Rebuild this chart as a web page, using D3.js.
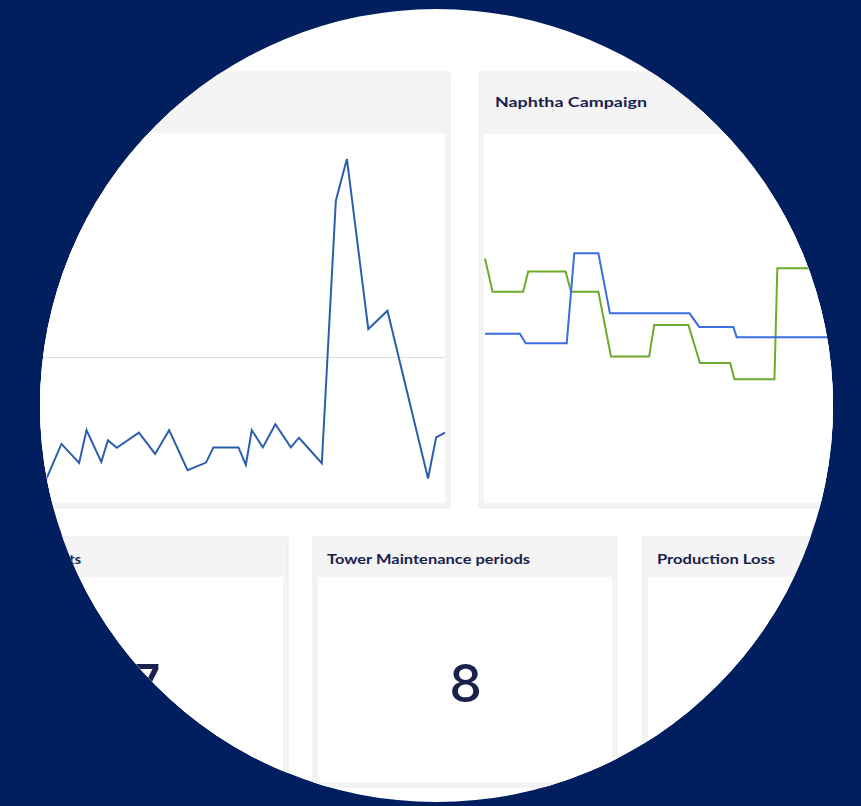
<!DOCTYPE html>
<html>
<head>
<meta charset="utf-8">
<script src="https://cdn.jsdelivr.net/npm/d3@7"></script>
<style>
  html, body { margin: 0; padding: 0; background: #011f5f; }
  svg { display: block; }
</style>
</head>
<body>
<svg id="chart" width="861" height="806"></svg>
<script>
// ---------- DATA ----------
// Left chart (single series, uneven time steps)
const leftT = [0, 2.0, 4.4, 5.4, 7.4, 8.3, 9.5, 12.5, 14.7, 16.6, 19.1, 21.6, 22.6, 26.0, 27.0, 27.8, 29.3, 31.0, 33.1, 34.2, 37.3, 39.2, 40.7, 43.6, 46.2, 51.7, 52.8, 54];
const leftV = [4.9, 14.8, 9.3, 18.8, 9.6, 15.9, 13.7, 18.1, 11.9, 18.8, 7.2, 9.4, 13.8, 13.8, 8.7, 18.8, 13.8, 20.5, 13.8, 16.6, 9.2, 85.3, 97.4, 48.1, 53.4, 4.8, 16.7, 18.1];
const leftGrid = [40];

// Naphtha Campaign: green series
const greenT = [0, 2.1, 10.6, 12.0, 22.4, 23.9, 31.5, 35.0, 45.6, 47.0, 56.5, 59.7, 68.1, 69.3, 80.4, 81.2, 100];
const greenV = [66.0, 56.9, 56.9, 62.4, 62.4, 56.9, 56.9, 39.2, 39.2, 47.8, 47.8, 37.4, 37.4, 33.0, 33.0, 63.3, 63.3];
// Naphtha Campaign: blue series
const blueT = [0, 9.7, 11.3, 22.7, 24.8, 31.5, 34.7, 56.8, 59.5, 69.0, 69.9, 100];
const blueV = [45.4, 45.4, 42.8, 42.8, 67.4, 67.4, 51.0, 51.0, 47.3, 47.3, 44.5, 44.5];

// KPI tiles
const kpiTitles = ["Total Events", "Tower Maintenance periods", "Production Loss"];
const kpiValues = ["17", "8", ""];
const chartTitles = ["", "Naphtha Campaign"];

// ---------- LAYOUT ----------
const W = 861, H = 806;
const NAVY = "#011f5f";
const PANEL = "#f4f4f4";
const TEXT = "#18224d";
const svg = d3.select("#chart");

svg.append("rect").attr("width", W).attr("height", H).attr("fill", NAVY);

const defs = svg.append("defs");
defs.append("clipPath").attr("id", "circ")
  .append("circle").attr("cx", 436.5).attr("cy", 405.5).attr("r", 396.5);

const g = svg.append("g").attr("clip-path", "url(#circ)");
g.append("rect").attr("width", W).attr("height", H).attr("fill", "#ffffff");

function panel(x0, x1, y0, yHead, y1) {
  g.append("rect").attr("x", x0).attr("y", y0).attr("width", x1 - x0).attr("height", y1 - y0)
    .attr("fill", PANEL).attr("stroke", "#ebebeb").attr("stroke-width", 1);
  g.append("rect").attr("x", x0 + 5).attr("y", yHead).attr("width", x1 - x0 - 10).attr("height", y1 - 5 - yHead)
    .attr("fill", "#ffffff");
}

// top panels
panel(-60, 450, 72, 133, 508);
panel(479, 990, 72, 134, 508);
// bottom tiles
panel(-18, 288, 537, 577, 787);
panel(313, 617, 537, 577, 787);
panel(643, 949, 537, 577, 787);

function title(txt, x, y, len, anchor) {
  g.append("text").attr("x", x).attr("y", y)
    .attr("font-family", "Lato, 'Open Sans', sans-serif")
    .attr("font-weight", 700).attr("font-size", 14)
    .attr("fill", TEXT)
    .attr("text-anchor", anchor || "start")
    .attr("textLength", len).attr("lengthAdjust", "spacingAndGlyphs")
    .text(txt);
}
title(chartTitles[1], 495, 107, 152);
title(kpiTitles[0], 81, 564, 78, "end");
title(kpiTitles[1], 327, 564, 203);
title(kpiTitles[2], 657, 564, 118);

// KPI values
const kpiCenters = [135, 465.5, 796];
kpiValues.forEach((v, i) => {
  g.append("text").attr("x", kpiCenters[i]).attr("y", 702)
    .attr("text-anchor", "middle")
    .attr("font-family", "Inter, Lato, sans-serif")
    .attr("font-weight", 500).attr("font-size", 52)
    .attr("fill", TEXT)
    .text(v);
});

// ---------- LEFT CHART ----------
const xL = d3.scaleLinear().domain([0, 54]).range([46.7, 445]);
const yL = d3.scaleLinear().domain([0, 100]).range([495, 150]);

const gridG = g.append("g").attr("transform", "translate(445,0)")
  .call(d3.axisLeft(yL).tickValues(leftGrid).tickSize(445 + 60).tickFormat(""));
gridG.select(".domain").remove();
gridG.selectAll("line").attr("stroke", "#dcdcdc").attr("stroke-width", 1);

const leftData = leftT.map((t, i) => ({ t, v: leftV[i] }));
g.append("path").datum(leftData)
  .attr("fill", "none").attr("stroke", "#2b5fac").attr("stroke-width", 2)
  .attr("stroke-linejoin", "miter")
  .attr("d", d3.line().x(d => xL(d.t)).y(d => yL(d.v)));

// ---------- RIGHT CHART (Naphtha Campaign) ----------
const xR = d3.scaleLinear().domain([0, 100]).range([485, 845]);
const yR = d3.scaleLinear().domain([0, 100]).range([500, 134]);
const lineR = d3.line().x(d => xR(d.t)).y(d => yR(d.v));

const greenData = greenT.map((t, i) => ({ t, v: greenV[i] }));
const blueData = blueT.map((t, i) => ({ t, v: blueV[i] }));

g.append("path").datum(greenData)
  .attr("fill", "none").attr("stroke", "#6fab2b").attr("stroke-width", 2)
  .attr("d", lineR);
g.append("path").datum(blueData)
  .attr("fill", "none").attr("stroke", "#3a6ee0").attr("stroke-width", 2)
  .attr("d", lineR);
</script>
</body>
</html>
